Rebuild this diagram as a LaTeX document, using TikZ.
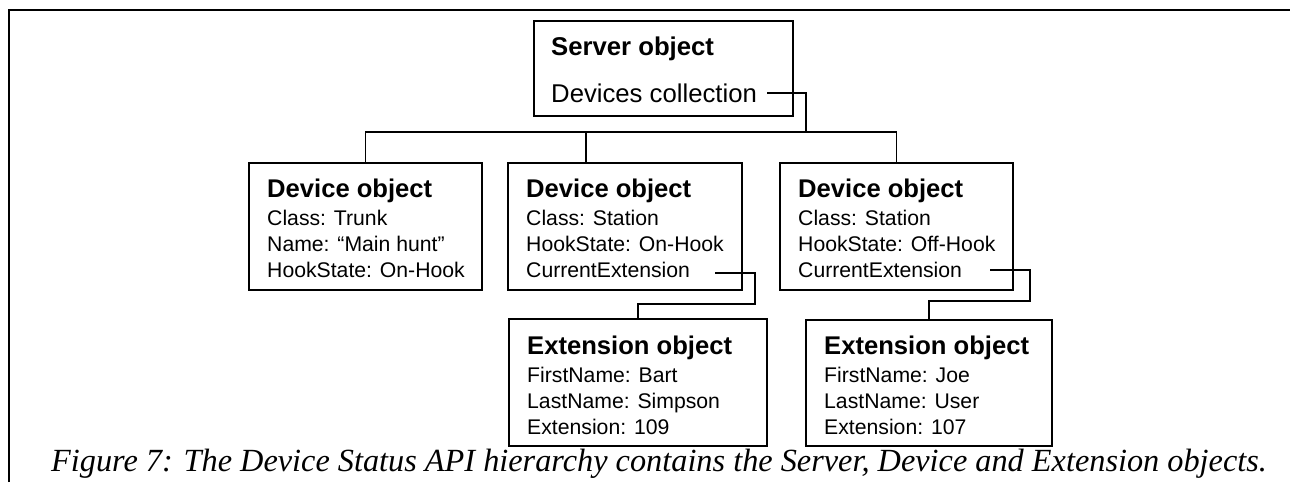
\documentclass[tikz,border=0pt]{standalone}
\usepackage{fontspec}
\setmainfont{Liberation Sans}
\newfontfamily\capfont{Liberation Serif}
\usetikzlibrary{calc}
\tikzset{
  objbox/.style={draw, line width=1.3pt, rectangle, inner sep=0pt, outer sep=0pt, anchor=north west},
  objtitle/.style={anchor=base west, inner sep=0pt, font=\fontsize{25.6}{30}\selectfont\bfseries},
  attr/.style={anchor=base west, inner sep=0pt, font=\fontsize{21.2}{25}\selectfont},
  srvtext/.style={anchor=base west, inner sep=0pt, font=\fontsize{25.7}{30}\selectfont},
  link/.style={line width=1.3pt},
  frame/.style={line width=2pt},
}
\begin{document}
\begin{tikzpicture}[x=1pt, y=-1pt]
\useasboundingbox (0,0) rectangle (1290,482);

% page frame
\coordinate (frameBL) at (8.5,482);
\coordinate (frameTL) at (8.5,10);
\coordinate (frameTR) at (1290,10);
\draw[frame] (frameBL) -- (frameTL) -- (frameTR);

% server object
\node[objbox, minimum width=259pt, minimum height=95pt] (srv) at (534,21) {};
\node[srvtext, font=\fontsize{25.7}{30}\selectfont\bfseries] (srvt) at ($(srv.north west)+(17,34)$) {Server object};
\node[srvtext] (srvc) at ($(srv.north west)+(17,81)$) {Devices collection};

% device objects
\node[objbox, minimum width=233pt, minimum height=127pt] (d1) at (249,163) {};
\node[objtitle] (d1t) at ($(d1.north west)+(18,34)$) {Device object};
\node[attr] (d1a) at ($(d1.north west)+(18,62)$) {Class: Trunk};
\node[attr] (d1b) at ($(d1.north west)+(18,88)$) {Name: “Main hunt”};
\node[attr] (d1c) at ($(d1.north west)+(18,114)$) {HookState: On-Hook};

\node[objbox, minimum width=234pt, minimum height=127pt] (d2) at (508,163) {};
\node[objtitle] (d2t) at ($(d2.north west)+(18,34)$) {Device object};
\node[attr] (d2a) at ($(d2.north west)+(18,62)$) {Class: Station};
\node[attr] (d2b) at ($(d2.north west)+(18,88)$) {HookState: On-Hook};
\node[attr] (d2c) at ($(d2.north west)+(18,114)$) {CurrentExtension};

\node[objbox, minimum width=233pt, minimum height=127pt] (d3) at (780,163) {};
\node[objtitle] (d3t) at ($(d3.north west)+(18,34)$) {Device object};
\node[attr] (d3a) at ($(d3.north west)+(18,62)$) {Class: Station};
\node[attr] (d3b) at ($(d3.north west)+(18,88)$) {HookState: Off-Hook};
\node[attr] (d3c) at ($(d3.north west)+(18,114)$) {CurrentExtension};

% extension objects
\node[objbox, minimum width=258pt, minimum height=127pt] (e1) at (509,319) {};
\node[objtitle] (e1t) at ($(e1.north west)+(18,35)$) {Extension object};
\node[attr] (e1a) at ($(e1.north west)+(18,63)$) {FirstName: Bart};
\node[attr] (e1b) at ($(e1.north west)+(18,89)$) {LastName: Simpson};
\node[attr] (e1c) at ($(e1.north west)+(18,115)$) {Extension: 109};

\node[objbox, minimum width=246pt, minimum height=126pt] (e2) at (806,320) {};
\node[objtitle] (e2t) at ($(e2.north west)+(18,34)$) {Extension object};
\node[attr] (e2a) at ($(e2.north west)+(18,62)$) {FirstName: Joe};
\node[attr] (e2b) at ($(e2.north west)+(18,88)$) {LastName: User};
\node[attr] (e2c) at ($(e2.north west)+(18,114)$) {Extension: 107};

% server -> devices
\coordinate (srvOut) at ($(srvc.base east)+(10,-9)$);
\coordinate (busY) at (0,132);
\coordinate (srvDrop) at (806,132);
\coordinate (d2In) at ($(d2.north west)+(78,0)$);
\draw[link] (srvOut) -| (srvDrop);
\draw[link] (d1.north) -- (d1.north |- busY) -- (d3.north |- busY) -- (d3.north);
\draw[link] (d2In |- busY) -- (d2In);

% current extension links
\coordinate (ce1Out) at ($(d2c.base east)+(25,-4)$);
\coordinate (ce1Turn) at (755,304);
\draw[link] (ce1Out) -| (ce1Turn) -| (e1.north);
\coordinate (ce2Out) at ($(d3c.base east)+(28,-7)$);
\coordinate (ce2Turn) at (1030,301);
\draw[link] (ce2Out) -| (ce2Turn) -| (e2.north);

% caption
\node[anchor=base west, inner sep=0pt, font=\capfont\itshape\fontsize{32.3}{36}\selectfont] (cap) at (51,471)
  {Figure 7: The Device Status API hierarchy contains the Server, Device and Extension objects.};
\end{tikzpicture}
\end{document}
